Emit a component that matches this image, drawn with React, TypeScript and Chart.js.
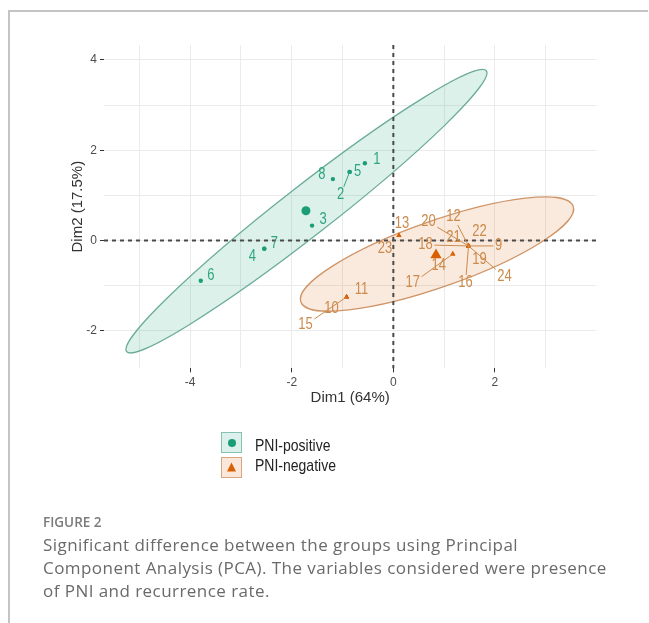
import { useEffect, useRef } from 'react';
import { Chart, registerables } from 'chart.js';

Chart.register(...registerables);

// ---- data ----
const positiveLabels = ['1', '2', '3', '4', '5', '6', '7', '8'];
const positiveDim1 = [-0.56, -0.86, -1.6, -2.54, -0.86, -3.79, -2.54, -1.19];
const positiveDim2 = [1.71, 1.52, 0.33, -0.18, 1.52, -0.89, -0.18, 1.36];

const negativeLabels = ['9', '10', '11', '12', '13', '14', '15', '16', '17', '18', '19', '20', '21', '22', '23', '24'];
const negativeDim1 = [1.48, -0.92, -0.92, 1.48, 0.11, 1.17, -0.92, 1.48, 1.17, 1.48, 1.48, 1.48, 1.48, 1.48, 0.11, 1.48];
const negativeDim2 = [-0.12, -1.25, -1.25, -0.12, 0.11, -0.3, -1.25, -0.12, -0.3, -0.12, -0.12, -0.12, -0.12, -0.12, 0.11, -0.12];

const positiveCentroid = [-1.72, 0.66];
const negativeCentroid = [0.84, -0.32];

// confidence ellipses: centre and two conjugate semi-axes (Dim1, Dim2 units)
const positiveEllipseCenter = [-1.71, 0.65];
const positiveEllipseAxisA = [3.54, 3.11];
const positiveEllipseAxisB = [0.3, -0.43];
const negativeEllipseCenter = [0.86, -0.3];
const negativeEllipseAxisA = [2.68, 1.06];
const negativeEllipseAxisB = [0.22, -0.69];

const referenceLines = [0];
const xTickLabels = [-4, -2, 0, 2];
const yTickLabels = [-2, 0, 2, 4];
const xRange = [-5.695, 3.995];
const yRange = [-2.83, 4.33];

// ---- label layout (repelled label offsets in px, and whether a segment is drawn) ----
const positiveLabelOffsets = [[12, -4], [-9, 23], [11, -6], [-12, 8], [8, 0], [10, -5], [10, -5], [-11, -4]];
const positiveLabelSegments = [false, true, false, false, false, false, false, false];
const negativeLabelOffsets = [
  [30, 0], [-15, 12], [15, -7], [-15, -29], [3, -12], [-14, 12], [-41, 28], [-3, 37],
  [-40, 29], [-43, -1], [11, 14], [-40, -24], [-15, -8], [11, -14], [-14, 13], [36, 31],
];
const negativeLabelSegments = [true, false, false, true, false, false, true, true, true, true, false, true, false, false, false, true];

const GREEN = '#1B9E77';
const ORANGE = '#D95F02';
const FONT = '"Liberation Sans", Arial, sans-serif';

const pcaPlugin = {
  id: 'pcaDecor',
  beforeDatasetsDraw(chart: any) {
    const { ctx, chartArea, scales } = chart;
    const xs = scales.x;
    const ys = scales.y;
    const drawEllipse = (c: number[], a: number[], b: number[], fill: string, stroke: string) => {
      const cx = xs.getPixelForValue(c[0]);
      const cy = ys.getPixelForValue(c[1]);
      const ax = xs.getPixelForValue(c[0] + a[0]) - cx;
      const ay = ys.getPixelForValue(c[1] + a[1]) - cy;
      const bx = xs.getPixelForValue(c[0] + b[0]) - cx;
      const by = ys.getPixelForValue(c[1] + b[1]) - cy;
      ctx.save();
      ctx.beginPath();
      ctx.save();
      ctx.transform(ax, ay, bx, by, cx, cy);
      ctx.arc(0, 0, 1, 0, Math.PI * 2);
      ctx.restore();
      ctx.fillStyle = fill;
      ctx.fill();
      ctx.strokeStyle = stroke;
      ctx.lineWidth = 1.3;
      ctx.stroke();
      ctx.restore();
    };
    drawEllipse(positiveEllipseCenter, positiveEllipseAxisA, positiveEllipseAxisB, 'rgba(27,158,119,0.15)', '#6aab9a');
    drawEllipse(negativeEllipseCenter, negativeEllipseAxisA, negativeEllipseAxisB, 'rgba(217,95,2,0.13)', '#cf9466');

    ctx.save();
    ctx.setLineDash([4, 4]);
    ctx.lineWidth = 2;
    ctx.strokeStyle = '#4a4a4a';
    ctx.beginPath();
    referenceLines.forEach((v) => {
      const py = ys.getPixelForValue(v);
      ctx.moveTo(chartArea.left, py);
      ctx.lineTo(chartArea.right, py);
      const px = xs.getPixelForValue(v);
      ctx.moveTo(px, chartArea.top);
      ctx.lineTo(px, chartArea.bottom);
    });
    ctx.stroke();
    ctx.restore();
  },
  afterDatasetsDraw(chart: any) {
    const { ctx, scales } = chart;
    const xs = scales.x;
    const ys = scales.y;
    const drawLabels = (
      labels: string[], dx: number[], dy: number[], offsets: number[][], segs: boolean[], color: string,
    ) => {
      ctx.save();
      ctx.font = `13px ${FONT}`;
      ctx.fillStyle = color;
      ctx.strokeStyle = color;
      ctx.lineWidth = 1;
      ctx.textAlign = 'center';
      ctx.textBaseline = 'middle';
      labels.forEach((t, i) => {
        const px = xs.getPixelForValue(dx[i]);
        const py = ys.getPixelForValue(dy[i]);
        const [ox, oy] = offsets[i];
        const lx = px + ox;
        const ly = py + oy;
        if (segs[i]) {
          const hw = ctx.measureText(t).width / 2 + 1.5;
          const hh = 8;
          const tx = ox !== 0 ? hw / Math.abs(ox) : Infinity;
          const ty = oy !== 0 ? hh / Math.abs(oy) : Infinity;
          const k = Math.min(tx, ty, 1);
          ctx.beginPath();
          ctx.moveTo(px, py);
          ctx.lineTo(lx - ox * k, ly - oy * k);
          ctx.stroke();
        }
        ctx.save();
        ctx.translate(lx, ly);
        ctx.scale(1, 1.2);
        ctx.fillText(t, 0, 0);
        ctx.restore();
      });
      ctx.restore();
    };
    drawLabels(positiveLabels, positiveDim1, positiveDim2, positiveLabelOffsets, positiveLabelSegments, '#2fa481');
    drawLabels(negativeLabels, negativeDim1, negativeDim2, negativeLabelOffsets, negativeLabelSegments, '#cc8a4c');
  },
};

export default function App() {
  const ref = useRef<HTMLCanvasElement>(null);

  useEffect(() => {
    const canvas = ref.current;
    if (!canvas) return;
    const tickColor = (labels: number[]) => (c: any) =>
      c.tick && labels.includes(c.tick.value) ? '#333333' : 'rgba(0,0,0,0)';
    const chart = new Chart(canvas, {
      type: 'scatter',
      data: {
        datasets: [
          {
            label: 'PNI-positive',
            data: positiveDim1.map((x, i) => ({ x, y: positiveDim2[i] })),
            pointStyle: 'circle',
            pointRadius: 2.2,
            backgroundColor: GREEN,
            borderColor: GREEN,
            borderWidth: 0,
          },
          {
            label: 'PNI-negative',
            data: negativeDim1.map((x, i) => ({ x, y: negativeDim2[i] })),
            pointStyle: 'triangle',
            pointRadius: 3,
            backgroundColor: ORANGE,
            borderColor: ORANGE,
            borderWidth: 0,
          },
          {
            label: 'PNI-positive centroid',
            data: [{ x: positiveCentroid[0], y: positiveCentroid[1] }],
            pointStyle: 'circle',
            pointRadius: 4.5,
            backgroundColor: GREEN,
            borderColor: GREEN,
            borderWidth: 0,
          },
          {
            label: 'PNI-negative centroid',
            data: [{ x: negativeCentroid[0], y: negativeCentroid[1] }],
            pointStyle: 'triangle',
            pointRadius: 6.5,
            backgroundColor: ORANGE,
            borderColor: ORANGE,
            borderWidth: 0,
          },
        ],
      },
      options: {
        animation: false,
        responsive: false,
        events: [],
        layout: { padding: { left: 65, right: 52.7, top: 45, bottom: 211.7 } },
        plugins: { legend: { display: false }, tooltip: { enabled: false } },
        scales: {
          x: {
            type: 'linear',
            min: xRange[0],
            max: xRange[1],
            afterFit: (s: any) => { s.height = 43; },
            border: { display: false },
            grid: { color: '#ebebeb', lineWidth: 1, tickLength: 4, tickColor: tickColor(xTickLabels) as any },
            ticks: {
              stepSize: 1,
              includeBounds: false,
              autoSkip: false,
              maxRotation: 0,
              padding: 3,
              color: '#4d4d4d',
              font: { family: FONT, size: 12 },
              callback: (v: any) => (xTickLabels.includes(Number(v)) ? String(v) : ''),
            },
            title: {
              display: true,
              text: 'Dim1 (64%)',
              color: '#333333',
              font: { family: FONT, size: 15 },
              padding: { top: 4, bottom: 4 },
            },
          },
          y: {
            type: 'linear',
            min: yRange[0],
            max: yRange[1],
            afterFit: (s: any) => { s.width = 39; },
            border: { display: false },
            grid: { color: '#ebebeb', lineWidth: 1, tickLength: 4, tickColor: tickColor(yTickLabels) as any },
            ticks: {
              stepSize: 1,
              includeBounds: false,
              autoSkip: false,
              padding: 3,
              color: '#4d4d4d',
              font: { family: FONT, size: 12 },
              callback: (v: any) => (yTickLabels.includes(Number(v)) ? String(v) : ''),
            },
            title: {
              display: true,
              text: 'Dim2 (17.5%)',
              color: '#333333',
              font: { family: FONT, size: 15 },
              padding: { top: 4, bottom: 4 },
            },
          },
        },
      },
      plugins: [pcaPlugin],
    } as any);
    return () => chart.destroy();
  }, []);

  const legendText: any = {
    position: 'absolute',
    left: 255,
    height: 18,
    lineHeight: '18px',
    fontFamily: FONT,
    fontSize: 14,
    color: '#222',
    whiteSpace: 'nowrap',
    transform: 'scaleY(1.2)',
    transformOrigin: 'left center',
  };

  return (
    <div style={{ position: 'absolute', left: 0, top: 0, width: 649, height: 623, background: '#fff', overflow: 'hidden' }}>
      <div
        style={{
          position: 'absolute', left: 8, top: 10, width: 638, height: 620,
          borderTop: '2px solid #c4c4c4', borderLeft: '2px solid #c4c4c4',
        }}
      />
      <canvas ref={ref} width={649} height={623} style={{ position: 'absolute', left: 0, top: 0, width: 649, height: 623 }} />

      <div style={{ position: 'absolute', left: 221, top: 432, width: 19, height: 19, background: '#ddf0eb', border: '1.5px solid #86c2b2' }}>
        <div style={{ position: 'absolute', left: 5.5, top: 5.5, width: 8, height: 8, borderRadius: '50%', background: GREEN }} />
      </div>
      <div style={{ position: 'absolute', left: 221, top: 457, width: 19, height: 19, background: '#fbe7d9', border: '1.5px solid #d5a681' }}>
        <svg width={19} height={19} style={{ position: 'absolute', left: 0, top: 0 }}>
          <polygon points="9.5,4.5 14,13.5 5,13.5" fill={ORANGE} />
        </svg>
      </div>
      <div style={{ ...legendText, top: 435.5 }}>PNI-positive</div>
      <div style={{ ...legendText, top: 455.5 }}>PNI-negative</div>

      <div
        style={{
          position: 'absolute', left: 43, top: 513, fontFamily: '"Open Sans", sans-serif', fontSize: 13.5,
          fontWeight: 600, color: '#7b7b7b', lineHeight: '18px', whiteSpace: 'nowrap',
        }}
      >
        FIGURE 2
      </div>
      <div
        style={{
          position: 'absolute', left: 43, top: 533, fontFamily: '"Open Sans", sans-serif', fontSize: 17,
          letterSpacing: '0.45px', color: '#6a6a6a', lineHeight: '23px', whiteSpace: 'nowrap',
        }}
      >
        Significant difference between the groups using Principal
        <br />
        Component Analysis (PCA). The variables considered were presence
        <br />
        of PNI and recurrence rate.
      </div>
    </div>
  );
}
